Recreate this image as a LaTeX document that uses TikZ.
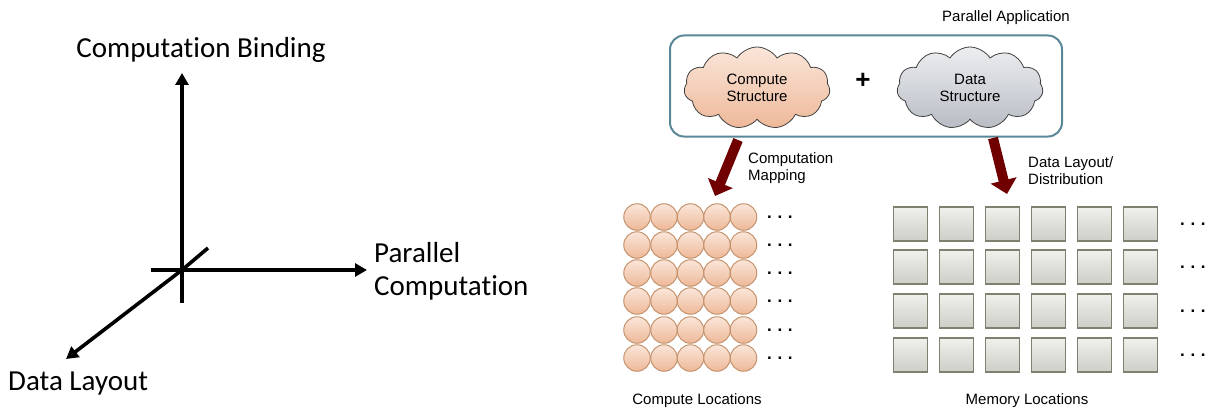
\documentclass[tikz,border=0pt]{standalone}
\usepackage{fontspec}
\setmainfont{Liberation Sans}
\newfontfamily\calfont[Ligatures={NoCommon,NoContextual}]{Carlito}
\usetikzlibrary{shapes.symbols,arrows.meta}
\definecolor{peachtop}{RGB}{250,230,218}
\definecolor{peachbot}{RGB}{238,184,152}
\definecolor{peachline}{RGB}{196,146,108}
\definecolor{greytop}{RGB}{236,238,240}
\definecolor{greybot}{RGB}{184,188,196}
\definecolor{sqtop}{RGB}{240,240,236}
\definecolor{sqbot}{RGB}{206,206,200}
\definecolor{sqline}{RGB}{128,128,112}
\definecolor{boxline}{RGB}{90,135,152}
\definecolor{darkred}{RGB}{112,0,0}
\tikzset{
  axline/.style={line width=3.6pt},
  axis/.style={line width=3.6pt,-{Triangle[length=12pt,width=13pt]}},
  axlabel/.style={font=\calfont\fontsize{29}{33}\selectfont,inner sep=0pt,align=left},
  lbl/.style={font=\fontsize{15}{17.5}\selectfont,inner sep=0pt,align=left},
  cloudnode/.style={cloud,cloud puffs=11,cloud puff arc=115,aspect=1.9,draw=black!75,line width=0.8pt,inner sep=0pt,minimum width=146pt,minimum height=82pt,font=\fontsize{15}{17.5}\selectfont,align=center},
  bigarrow/.style={line width=10pt,darkred,-{Triangle[length=14pt,width=26pt]}},
  cell/.style={circle,minimum size=26.5pt,inner sep=0pt,draw=peachline,line width=1pt,top color=peachtop,bottom color=peachbot},
  memcell/.style={rectangle,minimum size=34pt,inner sep=0pt,draw=sqline,line width=1.5pt,top color=sqtop,bottom color=sqbot},
  dots/.style={font=\bfseries\fontsize{17}{17}\selectfont,inner sep=0pt}
}
\begin{document}
\begin{tikzpicture}[x=1pt,y=-1pt]
\path[use as bounding box] (0,0) rectangle (1206,409);
% ---- left: axes
\coordinate (o) at (182,270);
\coordinate (top) at (182,73);
\coordinate (bot) at (182,303);
\coordinate (lft) at (151,270);
\coordinate (rgt) at (367,270);
\coordinate (ne) at (208,248);
\coordinate (sw) at (66,359);
\draw[axline] (bot) -- (o);
\draw[axis] (o) -- (top);
\draw[axline] (lft) -- (o);
\draw[axis] (o) -- (rgt);
\draw[axline] (ne) -- (o);
\draw[axis] (o) -- (sw);
\node[axlabel,anchor=center] (cb) at (201,50) {Computation Binding};
\node[axlabel,anchor=west] (pc) at (374,271) {Parallel\\Computation};
\node[axlabel,anchor=west] (dl) at (8,384) {Data Layout};
% ---- right: application box
\node[lbl,anchor=center] (pa) at (1006,18) {Parallel Application};
\node[draw=boxline,line width=2pt,rounded corners=14pt,minimum width=392pt,minimum height=101pt,inner sep=0pt] (app) at (866,86) {};
\node[cloudnode,top color=peachtop,bottom color=peachbot] (cs) at (757,88) {Compute\\Structure};
\node[font=\bfseries\fontsize{26}{28}\selectfont,inner sep=0pt] (plus) at (863,81) {+};
\node[cloudnode,top color=greytop,bottom color=greybot] (ds) at (970,88) {Data\\Structure};
% ---- arrows
\coordinate (a1s) at (738,140);
\coordinate (a1e) at (715,196);
\coordinate (a2s) at (993,138);
\coordinate (a2e) at (1007,194);
\draw[bigarrow] (a1s) -- (a1e);
\draw[bigarrow] (a2s) -- (a2e);
\node[lbl,anchor=north west] (cm) at (748,152) {Computation\\Mapping};
\node[lbl,anchor=north west] (dld) at (1028,156) {Data Layout/\\Distribution};
% ---- compute grid
\foreach \r/\y in {1/217,2/245,3/273,4/301,5/330,6/358}{
  \foreach \c/\x in {1/637,2/664,3/690.5,4/717,5/743.5}{
    \node[cell] (c-\r-\c) at (\x,\y) {};
  }
  \node[dots,anchor=west] (cd-\r) at (767,\y) {.\,\,.\,\,.};
}
\node[lbl,anchor=center] (cl) at (697,401) {Compute Locations};
% ---- memory grid
\foreach \r/\y in {1/224,2/267,3/311,4/355}{
  \foreach \c/\x in {1/910.5,2/956.5,3/1002.5,4/1048.5,5/1094.5,6/1140.5}{
    \node[memcell] (m-\r-\c) at (\x,\y) {};
  }
  \node[dots,anchor=west] (md-\r) at (1180,\y) {.\,\,.\,\,.};
}
\node[lbl,anchor=center] (ml) at (1027,401) {Memory Locations};
\end{tikzpicture}
\end{document}
